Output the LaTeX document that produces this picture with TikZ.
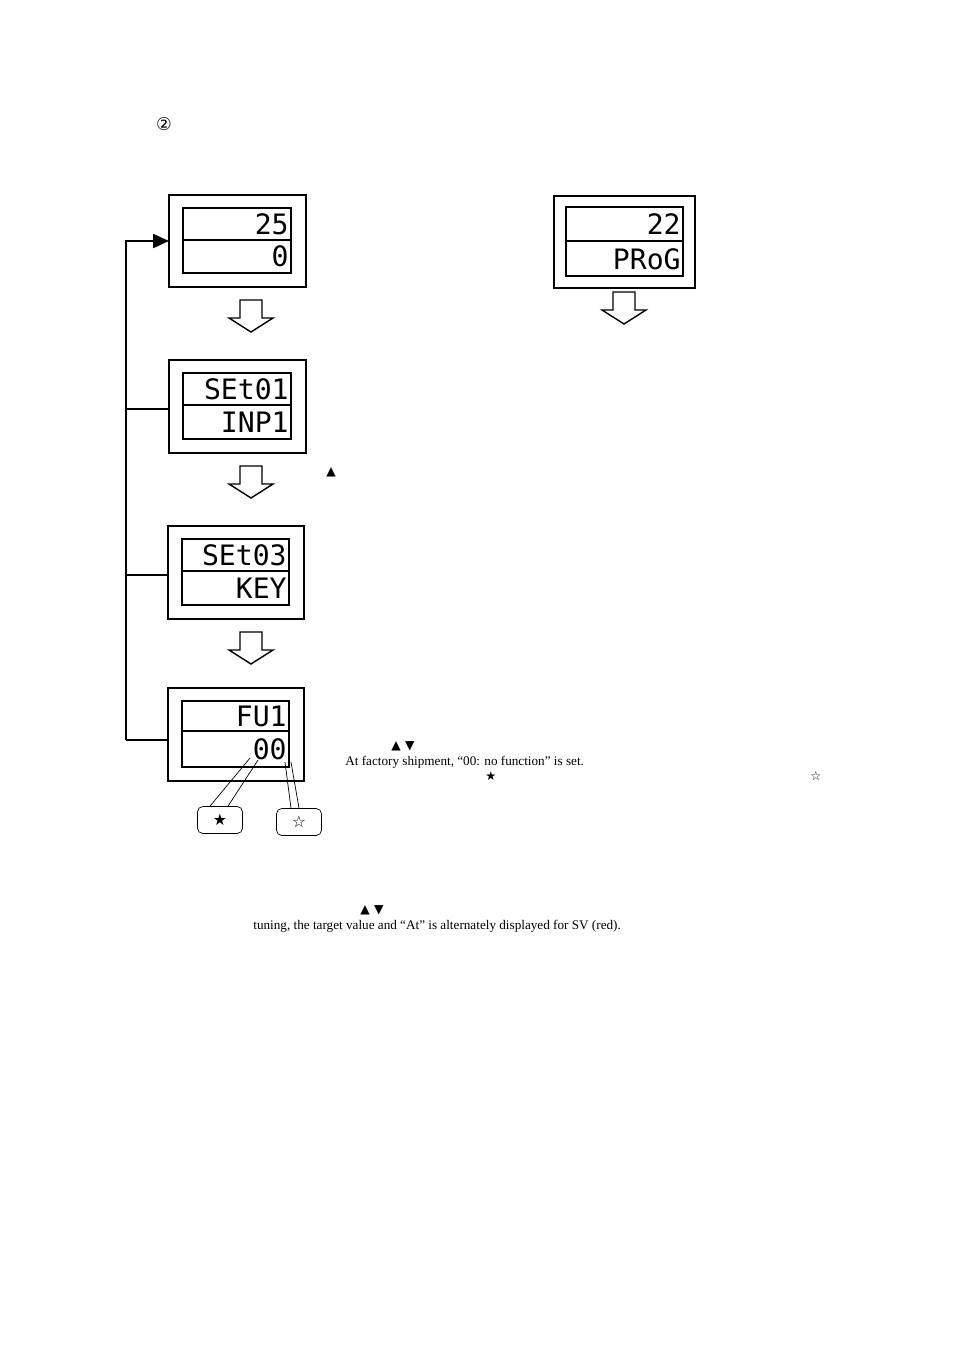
\documentclass[tikz,border=0pt]{standalone}
\usepackage{fontspec}
\setmainfont{Liberation Serif}
\newfontfamily\symfont{DejaVu Sans}
\newfontfamily\segfont{DejaVu Sans Mono}
\usetikzlibrary{arrows.meta}
\tikzset{
  seg/.style={font=\segfont\fontsize{16}{16}\selectfont, inner sep=0pt, anchor=east},
  note/.style={font=\fontsize{7.5}{9}\selectfont, inner sep=0pt, anchor=west},
  sym/.style={font=\symfont\fontsize{7}{8}\selectfont, inner sep=0pt},
  starbox/.style={draw, rounded corners=3pt, minimum width=0.9cm, minimum height=0.54cm, font=\symfont\fontsize{9}{9}\selectfont}
}
\newcommand{\hollowdown}[2]{%
  \draw[thick,fill=white] (#1-11,#2) -- (#1+11,#2) -- (#1+11,#2+18) -- (#1+22,#2+18)
    -- (#1,#2+32) -- (#1-22,#2+18) -- (#1-11,#2+18) -- cycle;}
\newcommand{\display}[8]{%
  \draw[thick] (#1,#2) rectangle (#3,#4);
  \draw[very thick] (#1+14,#2+13) rectangle (#3-15,#4-14);
  \draw[very thick] (#1+14,#5) -- (#3-15,#5);
  \node[seg] (#8top) at (#3-17,{(#2+13+#5)/2}) {#6};
  \node[seg] (#8bot) at (#3-17,{(#5+#4-14)/2}) {#7};}
\begin{document}
\begin{tikzpicture}[x=0.02cm,y=-0.02cm]
\useasboundingbox (0,0) rectangle (954,1350);
\node[sym,font=\symfont\fontsize{10}{10}\selectfont] (num) at (164,124) {②};
% displays
\display{169}{195}{306}{287}{240}{25}{0}{pv}
\display{169}{360}{306}{453}{405}{SEt01}{INP1}{inp}
\display{168}{526}{304}{619}{571}{SEt03}{KEY}{key}
\display{168}{688}{304}{781}{731}{FU1}{00}{fu}
\draw[line width=1.4pt] (554,196) rectangle (695,288);
\draw[very thick] (566,207) rectangle (683,276);
\draw[very thick] (566,241) -- (683,241);
\node[seg] (prtop) at (681,224) {22};
\node[seg] (prbot) at (681,259) {PRoG};
% hollow arrows
\hollowdown{251}{300}
\hollowdown{251}{466}
\hollowdown{251}{632}
\hollowdown{624}{292}
% return loop
\coordinate (ret) at (169,241);
\draw[thick,-{Triangle[length=9pt,width=8pt]}] (126,740) -- (126,241) -- (ret);
\draw[thick] (126,409) -- (169,409);
\draw[thick] (126,575) -- (168,575);
\draw[thick] (126,740) -- (168,740);
% digit labels
\node[starbox] (bstar) at (220,820) {★};
\node[starbox] (wstar) at (299,822) {☆};
\coordinate (d1a) at (250,758);
\coordinate (d1b) at (258,760);
\coordinate (d2a) at (285,762);
\coordinate (d2b) at (291,762);
\draw (bstar.north) ++(-10,0) -- (d1a);
\draw (bstar.north) ++(8,0) -- (d1b);
\draw (wstar.north) ++(-8,0) -- (d2a);
\draw (wstar.north) ++(0,0) -- (d2b);
% texts
\node[sym] (up1) at (331,472) {▲};
\node[sym] (ud1) at (403,746) {▲\,\,▼};
\node[note] (t1) at (345,762) {At factory shipment, “00: no function” is set.};
\node[sym] (s1) at (491,776) {★};
\node[sym] (s2) at (816,776) {☆};
\node[sym] (ud2) at (372,910) {▲\,\,▼};
\node[note] (t2) at (253,926) {tuning, the target value and “At” is alternately displayed for SV (red).};
\end{tikzpicture}
\end{document}
